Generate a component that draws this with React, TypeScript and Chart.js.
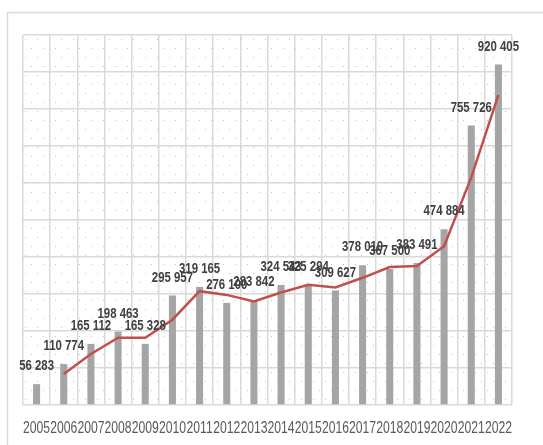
import React, { useEffect, useRef } from "react";
import { Chart, registerables } from "chart.js";

Chart.register(...registerables);

const years = ["2005","2006","2007","2008","2009","2010","2011","2012","2013","2014","2015","2016","2017","2018","2019","2020","2021","2022"];
const values = [56283,110774,165112,198463,165328,295957,319165,276100,283842,324543,325294,309627,378010,367500,383491,474884,755726,920405];
// trend line (2-period moving average)
const trend = [null,83500,137900,181800,181900,230600,307600,297600,280000,304200,324900,317500,343800,372800,375500,429200,615300,838100];
const yMax = 1000000;
const yStep = 100000;

const FONT = "'Liberation Sans', Arial, sans-serif";
const SQUEEZE = 0.76;

function fmt(v: number): string {
  return String(v).replace(/\B(?=(\d{3})+(?!\d))/g, " ");
}

function narrowText(ctx: CanvasRenderingContext2D, text: string, x: number, y: number) {
  ctx.save();
  ctx.translate(x, y);
  ctx.scale(SQUEEZE, 1);
  ctx.fillText(text, 0, 0);
  ctx.restore();
}

let patternCache: CanvasPattern | null = null;
function getPattern(ctx: CanvasRenderingContext2D): CanvasPattern | null {
  if (patternCache) return patternCache;
  const c = document.createElement("canvas");
  c.width = 12;
  c.height = 18;
  const p = c.getContext("2d")!;
  p.fillStyle = "#ffffff";
  p.fillRect(0, 0, 12, 18);
  p.fillStyle = "#c4c4c4";
  p.fillRect(2, 4, 1, 1);
  p.fillRect(8, 13, 1, 1);
  patternCache = ctx.createPattern(c, "repeat");
  return patternCache;
}

const bgPlugin = {
  id: "bgPattern",
  beforeDraw(chart: any) {
    const { ctx, chartArea } = chart;
    ctx.save();
    ctx.fillStyle = "#ffffff";
    ctx.fillRect(0, 0, chart.width, chart.height);
    ctx.strokeStyle = "#d9d9d9";
    ctx.lineWidth = 1.5;
    ctx.beginPath();
    ctx.moveTo(7.5, chart.height + 5);
    ctx.lineTo(7.5, 12.5);
    ctx.lineTo(chart.width + 5, 12.5);
    ctx.stroke();
    const pat = getPattern(ctx);
    if (pat) {
      ctx.translate(chartArea.left, chartArea.top);
      ctx.fillStyle = pat;
      ctx.fillRect(0, 0, chartArea.right - chartArea.left, chartArea.bottom - chartArea.top);
    }
    ctx.restore();
  },
};

const labelPlugin = {
  id: "barLabels",
  afterDraw(chart: any) {
    const { ctx } = chart;
    const meta = chart.getDatasetMeta(0);
    const xScale = chart.scales.x;
    ctx.save();
    // category labels
    ctx.font = "16px " + FONT;
    ctx.fillStyle = "#595959";
    ctx.textAlign = "center";
    ctx.textBaseline = "middle";
    years.forEach((yr, i) => {
      narrowText(ctx, yr, xScale.getPixelForValue(i), chart.chartArea.bottom + 24);
    });
    // bar value labels
    ctx.font = "bold 15px " + FONT;
    ctx.fillStyle = "#404040";
    meta.data.forEach((bar: any, i: number) => {
      narrowText(ctx, fmt(values[i]), bar.x, bar.y - 18);
    });
    ctx.restore();
  },
};

export default function App() {
  const ref = useRef<HTMLCanvasElement>(null);
  useEffect(() => {
    if (!ref.current) return;
    const chart = new Chart(ref.current, {
      type: "bar",
      data: {
        labels: years,
        datasets: [
          {
            type: "bar",
            data: values,
            backgroundColor: "#a5a5a5",
            barPercentage: 0.26,
            categoryPercentage: 1,
            order: 1,
          },
          {
            type: "line",
            data: trend as any,
            borderColor: "#c0504d",
            borderWidth: 2.5,
            pointRadius: 0,
            tension: 0,
            fill: false,
            order: 0,
          },
        ],
      },
      options: {
        animation: false,
        responsive: false,
        devicePixelRatio: 1,
        layout: { padding: { left: 23, right: 31, top: 35, bottom: 0 } },
        plugins: { legend: { display: false }, tooltip: { enabled: false } },
        scales: {
          x: {
            grid: { color: "#d9d9d9", lineWidth: 1.5, drawTicks: false, offset: true },
            border: { display: false },
            ticks: { display: false, autoSkip: false, maxRotation: 0 },
            afterFit(scale: any) {
              scale.height = 40;
            },
          },
          y: {
            min: 0,
            max: yMax,
            ticks: { display: false, stepSize: yStep },
            grid: { color: "#d9d9d9", lineWidth: 1.5, drawTicks: false },
            border: { display: false },
            afterFit(scale: any) {
              scale.width = 0;
            },
          },
        },
      },
      plugins: [bgPlugin, labelPlugin],
    });
    return () => chart.destroy();
  }, []);
  return (
    <div style={{ position: "absolute", left: 0, top: 0, width: 543, height: 445 }}>
      <canvas ref={ref} width={543} height={445} style={{ width: 543, height: 445 }} />
    </div>
  );
}
